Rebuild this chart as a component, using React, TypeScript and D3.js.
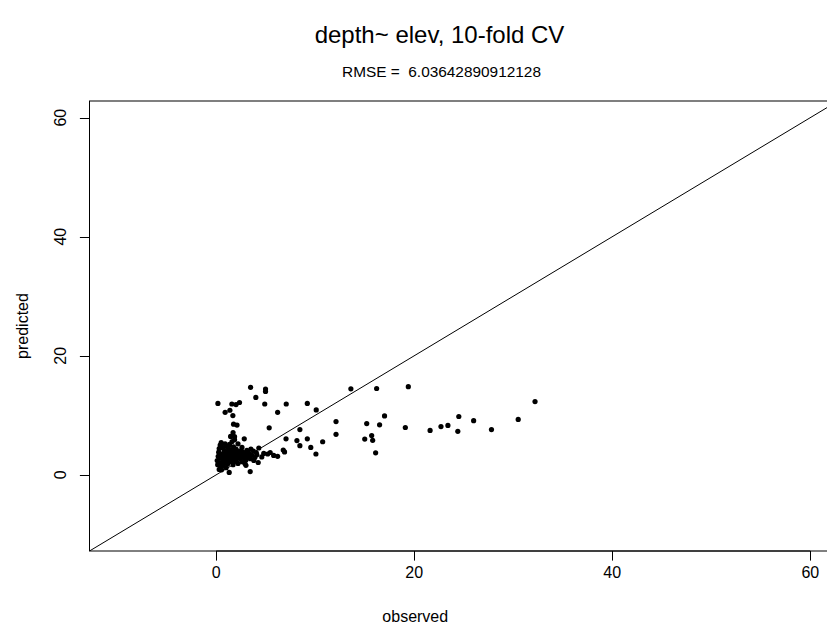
import React from "react";
import * as d3 from "d3";

const titleText = "depth~ elev, 10-fold CV";
const subtitleText = "RMSE =  6.03642890912128";
const xLabel = "observed";
const yLabel = "predicted";
const xTicks = [0, 20, 40, 60];
const yTicks = [0, 20, 40, 60];
const axisDomain = [-12.8, 62.8];

// observed values
const observed = [
  0.17, 1.58, 2.0, 2.35, 1.38, 0.9, 1.68, 3.47, 4.98, 4.98, 4.0, 4.9, 7.07, 9.2, 6.2, 10.1,
  1.75, 2.1, 5.35, 1.7, 1.45, 1.85, 1.85, 2.83, 0.5, 7.05, 8.45, 8.15, 8.45, 9.2, 9.55, 10.07,
  10.75, 12.1, 12.1, 13.6, 16.2, 19.4, 15.2, 17.0, 16.5, 19.1, 15.0, 15.7, 15.8, 16.1, 21.6, 22.7,
  23.4, 24.5, 24.4, 26.0, 27.8, 30.5, 32.2, 4.1, 4.24, 5.2, 5.45, 5.8, 6.2, 6.77, 6.9, 1.31,
  3.43, 0.54, 1.6,
  0.1, 0.15, 0.2, 0.25, 0.3, 0.35, 0.4, 0.45, 0.5, 0.55, 0.6, 0.65, 0.7, 0.75, 0.8, 0.85,
  0.9, 0.95, 1.0, 1.0, 1.05, 1.1, 1.15, 1.2, 1.25, 1.3, 1.35, 1.4, 1.45, 1.5, 1.55, 1.6,
  1.65, 1.7, 1.75, 1.8, 1.85, 1.9, 1.95, 2.0, 2.1, 2.15, 2.2, 2.3, 2.4, 2.5, 2.6, 2.7,
  2.8, 2.9, 3.0, 3.1, 3.2, 3.3, 3.45, 3.6, 3.75, 3.9, 4.05, 4.3, 2.2, 2.6, 3.0, 0.3, 1.0,
  2.5, 3.0, 3.5, 4.6, 4.8, 2.9, 3.8,
];

// predicted values
const predicted = [
  12.0, 11.9, 11.8, 12.15, 10.85, 10.5, 9.95, 14.7, 14.4, 14.0, 13.0, 11.9, 11.9, 12.0, 10.5, 10.9,
  8.5, 8.35, 7.9, 7.1, 6.45, 6.4, 5.9, 6.05, 5.4, 6.05, 7.6, 5.75, 4.9, 6.05, 4.6, 3.5,
  5.55, 8.95, 6.8, 14.45, 14.5, 14.8, 8.6, 9.9, 8.4, 7.95, 6.0, 6.6, 5.8, 3.7, 7.45, 8.1,
  8.3, 9.8, 7.3, 9.1, 7.6, 9.3, 12.3, 3.36, 2.07, 3.5, 3.75, 3.25, 3.1, 4.15, 3.85, 0.4,
  0.55, 0.84, 5.6,
  2.4, 1.7, 3.1, 3.8, 4.4, 2.0, 5.0, 2.8, 1.3, 3.5, 4.6, 2.3, 1.6, 3.2, 4.1, 2.6,
  5.2, 3.6, 2.1, 4.8, 2.9, 3.9, 1.8, 3.3, 4.4, 2.5, 5.1, 3.0, 3.7, 2.2, 4.2, 2.8,
  3.4, 1.7, 4.7, 2.6, 3.1, 3.8, 2.3, 4.3, 2.9, 3.5, 1.9, 4.0, 2.7, 3.3, 2.2, 3.8,
  2.9, 3.5, 2.5, 4.1, 3.0, 3.6, 2.7, 3.3, 4.0, 2.9, 3.7, 4.5, 5.2, 4.6, 1.6, 0.9, 1.2,
  3.9, 3.2, 4.3, 3.0, 3.6, 1.9, 2.4,
];

const W = 827;
const H = 631;
const left = 89.5;
const right = 838;
const top = 101;
const bottom = 551;
const font = "'Liberation Sans', Arial, Helvetica, sans-serif";

export default function App() {
  const x = d3.scaleLinear().domain(axisDomain).range([left, right]);
  const y = d3.scaleLinear().domain(axisDomain).range([bottom, top]);
  const pts = observed.map((o, i) => ({ o, p: predicted[i] }));
  const tick = 9.6;
  return (
    <svg
      width={W}
      height={H}
      style={{ position: "absolute", left: 0, top: 0, background: "#fff" }}
      fontFamily={font}
    >
      <rect x={0} y={0} width={W} height={H} fill="#fff" />
      <defs>
        <clipPath id="plotclip">
          <rect x={left} y={top} width={right - left} height={bottom - top} />
        </clipPath>
      </defs>
      <text x={W / 2 + 26} y={43} fontSize={24} textAnchor="middle" fill="#000">
        {titleText}
      </text>
      <text
        x={W / 2 + 28}
        y={77}
        fontSize={15.4}
        textAnchor="middle"
        fill="#000"
        xmlSpace="preserve"
        style={{ whiteSpace: "pre" }}
      >
        {subtitleText}
      </text>
      {/* box */}
      <rect x={left} y={top} width={right - left} height={bottom - top} fill="none" stroke="#000" strokeWidth={1} />
      {/* diagonal */}
      <line
        clipPath="url(#plotclip)"
        x1={x(axisDomain[0])}
        y1={y(axisDomain[0])}
        x2={x(axisDomain[1])}
        y2={y(axisDomain[1])}
        stroke="#000"
        strokeWidth={1}
      />
      {/* x axis */}
      <line x1={x(xTicks[0])} x2={x(xTicks[xTicks.length - 1])} y1={bottom} y2={bottom} stroke="#000" />
      {xTicks.map((t) => (
        <g key={"xt" + t}>
          <line x1={Math.round(x(t)) + 0.5} x2={Math.round(x(t)) + 0.5} y1={bottom} y2={bottom + tick} stroke="#000" />
          <text x={x(t)} y={578} fontSize={16} textAnchor="middle" fill="#000">
            {t}
          </text>
        </g>
      ))}
      {/* y axis */}
      {yTicks.map((t) => (
        <g key={"yt" + t}>
          <line x1={left} x2={left - tick} y1={Math.round(y(t)) + 0.5} y2={Math.round(y(t)) + 0.5} stroke="#000" />
          <text
            transform={`translate(66,${y(t)}) rotate(-90)`}
            fontSize={16}
            textAnchor="middle"
            fill="#000"
          >
            {t}
          </text>
        </g>
      ))}
      <text x={(left + 737) / 2 + 2} y={622} fontSize={16} textAnchor="middle" fill="#000">
        {xLabel}
      </text>
      <text transform={`translate(28,${(top + bottom) / 2}) rotate(-90)`} fontSize={16} textAnchor="middle" fill="#000">
        {yLabel}
      </text>
      {/* points */}
      <g clipPath="url(#plotclip)">
        {pts.map((d, i) => (
          <circle key={i} cx={x(d.o)} cy={y(d.p)} r={2.6} fill="#000" />
        ))}
      </g>
    </svg>
  );
}
